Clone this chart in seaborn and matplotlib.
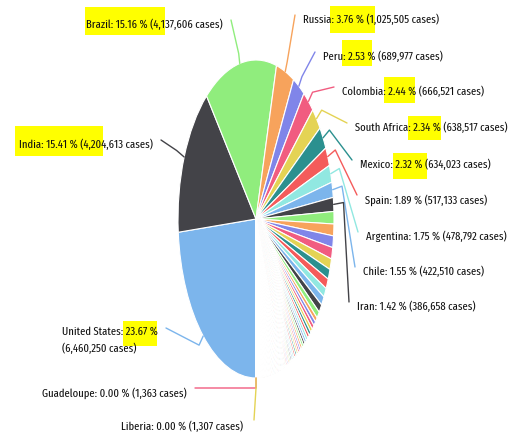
import matplotlib
matplotlib.use("Agg")
from matplotlib import pyplot as plt
from matplotlib.lines import Line2D
from matplotlib.patches import Rectangle
import numpy as np
import seaborn as sns

# confirmed cases per country, in the order the pie draws them (clockwise)
countries = [
    "United States", "India", "Brazil", "Russia", "Peru", "Colombia", "South Africa",
    "Mexico", "Spain", "Argentina", "Chile", "Iran",
    "United Kingdom", "Bangladesh", "Saudi Arabia", "France", "Pakistan", "Turkey",
    "Italy", "Iraq", "Germany", "Philippines", "Indonesia", "Ukraine", "Israel",
    "Canada", "Bolivia", "Qatar", "Ecuador", "Kazakhstan", "Egypt",
    "Dominican Republic", "Panama", "Romania", "Kuwait", "Belgium", "Oman", "China",
    "Sweden", "Guatemala", "Netherlands", "United Arab Emirates", "Belarus", "Japan",
    "Morocco", "Poland", "Honduras", "Ethiopia", "Portugal", "Singapore", "Bahrain",
    "Nigeria", "Venezuela", "Costa Rica", "Algeria", "Nepal", "Ghana", "Uzbekistan",
    "Armenia", "Switzerland", "Kyrgyzstan", "Moldova", "Afghanistan", "Azerbaijan",
    "Kenya", "Serbia", "Palestine", "Puerto Rico", "Ireland", "Austria", "Australia",
    "El Salvador", "Czechia",
    "South Korea", "Libya", "Bosnia and Herzegovina", "Cameroon", "Paraguay",
    "Lebanon", "Denmark", "Ivory Coast", "Bulgaria", "Madagascar", "North Macedonia",
    "Senegal", "Sudan", "Kosovo", "Zambia", "Greece", "Croatia", "Norway",
    "DR Congo", "Albania", "Guinea", "French Guiana", "Malaysia", "Tajikistan",
    "Gabon", "Haiti", "Finland", "Maldives", "Hungary", "Namibia", "Luxembourg",
    "Mauritania", "Zimbabwe", "Malawi", "Djibouti", "Montenegro", "Equatorial Guinea",
    "Eswatini", "Hong Kong", "Central African Republic", "Nicaragua", "Cuba",
    "Mozambique", "Rwanda", "Suriname", "Cabo Verde", "Slovakia", "Reunion",
    "Tunisia", "Congo", "Mayotte", "Thailand", "Somalia", "Sri Lanka", "Gambia",
    "Lithuania", "Slovenia", "Uganda", "Syria", "Angola", "Mali", "South Sudan",
    "Estonia", "Bahamas", "Guinea-Bissau", "Benin", "Jamaica", "Aruba", "Iceland",
    "Sierra Leone", "Yemen", "Malta", "Trinidad and Tobago", "Jordan", "Botswana",
    "Georgia", "Uruguay", "New Zealand", "Cyprus", "Latvia", "Burkina Faso", "Togo",
    "Guadeloupe", "Liberia",
]
cases = [
    6460250, 4204613, 4137606, 1025505, 689977, 666521, 638517,
    634023, 517133, 478792, 422510, 386658,
    344000, 327000, 322000, 318000, 300000, 281000,
    280000, 262500, 254000, 238000, 196000, 140000, 135000,
    133000, 121000, 119000, 113000, 106000, 100000,
    97000, 96000, 95000, 88000, 87000, 86000, 85000,
    85000, 78000, 75000, 73000, 72000, 71000,
    70000, 70000, 64000, 60000, 60000, 57000, 55000,
    55000, 52000, 50000, 47000, 47000, 45000, 45000,
    45000, 44000, 44000, 39000, 38000, 37000,
    35000, 31000, 30000, 30000, 29000, 28000, 26000,
    26000, 26000,
    21000, 20000, 20000, 19000, 19000,
    18000, 18000, 18000, 17000, 15000, 15000,
    14000, 13000, 13000, 12000, 11000, 11000, 11000,
    10000, 10000, 9900, 9800, 9400, 8700,
    8600, 8500, 8300, 8000, 8000, 8000, 7500,
    7200, 7000, 5600, 5400, 5000, 5000,
    4800, 4800, 4700, 4500, 4300,
    4300, 4300, 4200, 4100, 4000, 4000,
    3800, 3700, 3500, 3400, 3300, 3100, 3000,
    3000, 3000, 3000, 3000, 2900, 2800, 2500,
    2400, 2400, 2200, 2200, 2200, 2200, 2100,
    2000, 2000, 2000, 1900, 1800, 1700,
    1600, 1600, 1400, 1400, 1400, 1400, 1400,
    1363, 1307,
]

# countries that get a label: (x, y) of the text anchor in pixels, alignment
label_pos = {
    "Brazil": (223, 25, "right"),
    "India": (153, 145, "right"),
    "United States": (158, 340, "right"),
    "Guadeloupe": (187, 393, "right"),
    "Liberia": (243, 427, "right"),
    "Russia": (303, 20, "left"),
    "Peru": (323, 57, "left"),
    "Colombia": (342, 92, "left"),
    "South Africa": (355, 128, "left"),
    "Mexico": (360, 165, "left"),
    "Spain": (365, 200, "left"),
    "Argentina": (366, 237, "left"),
    "Chile": (363, 272, "left"),
    "Iran": (357, 307, "left"),
}
# where the connector meets the label, relative to the anchor
conn_offset = {"United States": (8, -12), "Liberia": (11, -7)}

# hand-drawn yellow marker boxes (x0, y0, x1, y1) in pixels
highlights = [
    (85, 7, 165, 35), (15, 126, 103, 156), (330, 6, 375, 33), (342, 40, 372, 66),
    (384, 77, 415, 103), (408, 116, 441, 140), (393, 153, 427, 179), (123, 321, 157, 346),
]

HC_COLORS = ["#7cb5ec", "#434348", "#90ed7d", "#f7a35c", "#8085e9",
             "#f15c80", "#e4d354", "#2b908f", "#f45b5b", "#91e8e1"]

sns.set_theme(style="white")
plt.rcParams["font.family"] = ["Fira Sans Extra Condensed", "DejaVu Sans"]

W, H = 519, 437
fig = plt.figure(figsize=(W / 100, H / 100), dpi=100)
fig.patch.set_facecolor("white")

# the screenshot is squeezed sideways, so the pie is an ellipse
cx, cy, rx, ry = 256, 219, 78, 159
ax = fig.add_axes([(cx - rx) / W, 1 - (cy + ry) / H, 2 * rx / W, 2 * ry / H])
colors = [HC_COLORS[i % 10] for i in range(len(cases))]
ax.pie(cases, colors=colors, startangle=270, counterclock=False, radius=1,
       wedgeprops=dict(edgecolor="white", linewidth=0.8))
ax.set_aspect("auto")
ax.set_xlim(-1, 1)
ax.set_ylim(-1, 1)
ax.axis("off")

total = float(sum(cases))
cum = np.cumsum(cases)
to_fig = fig.transFigure.inverted()
center = ax.transData.transform((0, 0))

for x0, y0, x1, y1 in highlights:
    fig.add_artist(Rectangle((x0 / W, 1 - y1 / H), (x1 - x0) / W, (y1 - y0) / H,
                             transform=fig.transFigure, facecolor="#ffff00",
                             edgecolor="none", zorder=1))

for i, name in enumerate(countries):
    if name not in label_pos:
        continue
    x, y, ha = label_pos[name]
    pct = 100 * cases[i] / total
    if name == "United States":
        txt = f"{name}: {pct:.2f} %\n({cases[i]:,} cases)"
    else:
        txt = f"{name}: {pct:.2f} % ({cases[i]:,} cases)"
    fig.text(x / W, 1 - y / H, txt, ha=ha, va="center", multialignment="left",
             fontsize=8.3, color="#111111", zorder=3, linespacing=1.65)

    # connector: slice edge -> short radial stub -> label
    theta = np.deg2rad(180 + 360 * (cum[i] - cases[i] / 2) / total)
    p = ax.transData.transform((np.sin(theta), np.cos(theta)))
    u = (p - center) / np.linalg.norm(p - center)
    bend = p + 10 * u
    dx, dy = conn_offset.get(name, (8, -5))
    lx = x + dx if ha == "right" else x - dx
    lab = np.array([lx, H - (y + dy)])
    pts = to_fig.transform(np.vstack([p, bend, lab]))
    fig.add_artist(Line2D(pts[:, 0], pts[:, 1], transform=fig.transFigure,
                          color=colors[i], linewidth=1, zorder=2))

fig.savefig("out.png", dpi=100)
